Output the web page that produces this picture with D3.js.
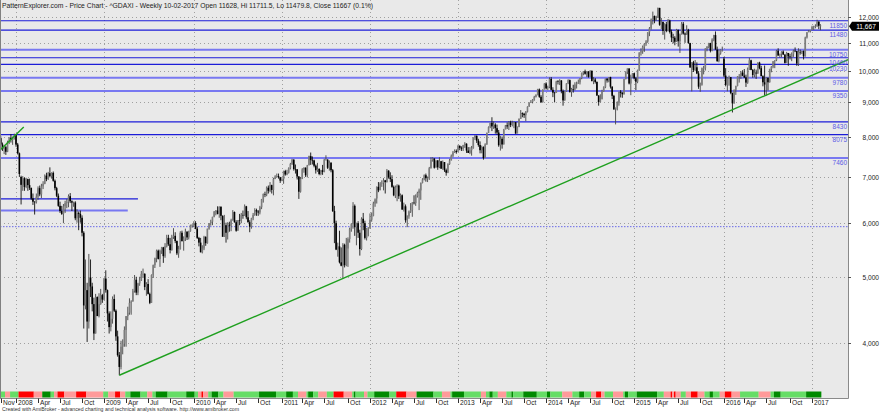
<!DOCTYPE html>
<html><head><meta charset="utf-8">
<script src="https://cdn.jsdelivr.net/npm/d3@7"></script>
<style>body{margin:0;background:#fff}svg{display:block;font-family:"Liberation Sans",Arial,sans-serif}</style>
</head><body><svg id="c" width="880" height="413"></svg>
<script>
// ---------- DATA ----------
const chartTitle = "PatternExplorer.com - Price Chart - ^GDAXI - Weekly 10-02-2017 Open 11628, Hi 11711.5, Lo 11479.8, Close 11667 (0.1%)";
const footerText = "Created with AmiBroker - advanced charting and technical analysis software. http://www.amibroker.com";
const firstWeek = "2007-11-02"; // weekly bars (Fridays)
const lastClose = 11667;
const lastCloseLabel = "11,667";
const weeklyOHLC = [
[7980,8030,7790,7810],[7810,7860,7640,7690],[7690,7800,7560,7740],[7740,7770,7540,7620],[7620,7910,7610,7870],
[7870,8000,7820,7990],[7990,8090,7860,7930],[7930,8020,7800,7960],[7960,8100,7940,8067],
[8067,8090,7750,7808],[7808,7850,7550,7580],[7580,7600,7000,7070],[7000,7030,6380,6816],[6816,7020,6680,6970],
[6970,6990,6680,6768],[6768,6980,6740,6950],[6950,6960,6680,6810],[6810,6960,6700,6748],[6748,6750,6480,6510],
[6510,6620,6370,6440],[6440,6450,6167,6430],[6430,6620,6400,6550],[6550,6780,6480,6740],[6740,6800,6560,6600],
[6600,6840,6520,6780],[6780,6900,6720,6840],[6840,7060,6830,7030],[7030,7100,6900,6950],[6950,7120,6930,7090],
[7090,7230,6990,7020],[7020,7110,6960,7097],[7097,7130,6890,6910],[6910,6940,6690,6740],[6740,6770,6540,6570],
[6570,6620,6330,6350],[6350,6440,6200,6240],[6240,6350,6160,6180],[6180,6390,5990,6340],[6340,6460,6200,6410],
[6410,6500,6300,6430],[6430,6600,6320,6560],[6560,6630,6410,6450],[6450,6470,6240,6420],[6420,6440,6330,6422],
[6422,6450,6050,6090],[6090,6280,6000,6200],[6200,6230,5850,6180],[6180,6250,6000,6100],[6100,6150,5730,5800],
[5800,5830,4200,4540],[4540,5300,4480,4780],[4780,4900,4014,4300],[4300,5400,4200,4988],[4988,5300,4670,4840],
[4840,4900,4450,4560],[4560,4660,4040,4130],[4130,4720,4130,4670],[4670,4680,4380,4380],[4380,4730,4360,4560],
[4560,4800,4550,4700],[4700,4720,4580,4630],
[4630,4980,4620,4970],[4970,5110,4740,4780],[4780,4790,4300,4420],[4420,4450,4130,4220],[4220,4450,4160,4340],
[4340,4680,4270,4640],[4640,4710,4440,4460],[4460,4480,4030,4090],[4090,4170,3820,3840],[3840,3880,3588,3690],
[3690,4030,3660,3950],[3950,4050,3850,3990],[3990,4230,3950,4180],[4180,4380,3950,4380],[4380,4520,4320,4430],
[4430,4650,4400,4580],[4580,4620,4400,4600],[4600,4800,4600,4770],[4770,5030,4740,4950],[4950,5000,4700,4740],
[4740,4900,4700,4890],[4890,5000,4850,4940],[4940,5100,4930,5050],[5050,5140,4980,5050],[5050,5060,4780,4830],
[4830,4910,4690,4880],[4880,4960,4710,4720],[4720,4740,4560,4580],[4580,5040,4580,5030],[5030,5210,4980,5200],
[5200,5330,5150,5330],[5330,5480,5250,5460],[5460,5480,5300,5310],[5310,5480,5170,5460],[5460,5530,5400,5520],
[5520,5530,5240,5360],[5360,5600,5330,5540],[5540,5760,5520,5700],[5700,5760,5550,5580],[5580,5700,5410,5470],
[5470,5760,5460,5720],[5720,5890,5680,5740],[5740,5810,5600,5640],[5640,5650,5380,5410],[5410,5550,5330,5490],
[5490,5830,5480,5800],[5800,5840,5630,5640],[5640,5730,5460,5690],[5690,5880,5640,5820],[5820,5830,5660,5710],
[5710,5840,5670,5830],[5830,5960,5820,5950],[5950,5970,5900,5957],
[5957,6030,5910,5990],[5990,6030,5870,5880],[5880,5920,5680,5700],[5700,5720,5540,5610],[5610,5700,5430,5430],
[5430,5560,5410,5500],[5500,5740,5470,5720],[5720,5730,5550,5600],[5600,5880,5590,5880],[5880,5990,5860,5990],
[5990,6060,5940,6020],[6020,6120,5950,6120],[6120,6240,6110,6230],[6230,6260,6150,6250],[6250,6340,6170,6180],
[6180,6340,6100,6330],[6330,6340,6050,6140],[6140,6150,5750,5720],[5720,6160,5720,5950],[5950,6000,5610,5800],
[5800,6010,5670,5960],[5960,6020,5820,5940],[5940,6080,5830,6050],[6050,6260,6040,6220],[6220,6230,6000,6010],
[6010,6050,5820,5840],[5840,6050,5840,6050],[6050,6180,5950,6040],[6040,6200,5990,6160],[6160,6250,6080,6150],
[6150,6380,6140,6340],[6340,6350,6070,6110],[6110,6240,6000,6010],[6010,6050,5810,5920],[5920,6100,5880,6090],
[6090,6200,6050,6160],[6160,6300,6140,6260],[6260,6290,6140,6230],[6230,6260,6140,6210],[6210,6350,6170,6320],
[6320,6500,6280,6490],[6490,6620,6420,6610],[6610,6660,6540,6600],[6600,6780,6560,6750],[6750,6800,6620,6680],
[6680,6880,6650,6810],[6810,6820,6620,6700],[6700,6980,6580,6950],[6950,7040,6950,7010],[7010,7080,6990,7020],
[7020,7080,6960,6990],[6990,7000,6860,6914],
[6914,7000,6900,6950],[6950,7150,6840,7140],[7140,7170,7030,7060],[7060,7170,7040,7100],[7100,7230,7080,7210],
[7210,7340,7180,7310],[7310,7440,7290,7420],[7420,7430,7150,7190],[7190,7300,7080,7180],[7180,7190,6940,7010],
[7010,7020,6500,6660],[6660,7000,6640,6950],[6950,7210,6950,7180],[7180,7230,7100,7220],[7220,7230,7000,7040],
[7040,7290,6990,7280],[7280,7520,7280,7510],[7510,7600,7290,7410],[7410,7500,7300,7400],[7400,7420,7230,7270],
[7270,7300,7080,7160],[7160,7340,7120,7190],[7190,7210,7040,7070],[7070,7170,7040,7160],[7160,7290,7050,7120],
[7120,7440,7110,7420],[7420,7530,7400,7420],[7420,7430,7190,7220],[7220,7400,7150,7340],[7340,7360,7110,7160],
[7160,7190,6220,6240],[6240,6350,5600,5990],[5990,6040,5470,5480],[5480,5610,5350,5540],[5540,5840,5230,5250],
[5250,5520,5180,5190],[5190,5600,4965,5570],[5570,5590,5160,5200],[5200,5700,5180,5500],[5500,5710,5170,5680],
[5680,5900,5610,5870],[5870,5990,5820,5970],[5970,6430,5880,6350],[6350,6380,5740,5910],[5910,6000,5560,5990],
[5990,6030,5700,5800],[5800,5860,5370,5490],[5490,6110,5470,6080],[6080,6200,5850,5990],[5990,6040,5670,5700],
[5700,5890,5650,5880],[5880,5910,5730,5898],
[5898,6190,5880,6060],[6060,6210,6020,6140],[6140,6440,6130,6400],[6400,6480,6330,6510],[6510,6780,6400,6770],
[6770,6880,6650,6690],[6690,6880,6700,6850],[6850,6920,6770,6860],[6860,6970,6690,6920],[6920,6930,6620,6880],
[6880,7190,6870,7150],[7150,7160,6960,6990],[6990,7110,6880,6947],[6947,7040,6750,6770],[6770,6800,6560,6580],
[6580,6800,6520,6760],[6760,6830,6450,6800],[6800,6820,6500,6560],[6560,6620,6440,6580],[6580,6600,6270,6270],
[6270,6420,6230,6340],[6340,6380,6000,6050],[6050,6150,5910,6130],[6130,6250,6080,6230],[6230,6410,6200,6260],
[6260,6430,6120,6420],[6420,6580,6380,6410],[6410,6600,6350,6560],[6560,6660,6530,6630],[6630,6730,6260,6690],
[6690,6870,6480,6860],[6860,6970,6850,6940],[6940,7060,6920,7040],[7040,7080,6890,6970],[6970,7010,6880,6970],
[6970,7240,6930,7210],[7210,7480,7200,7410],[7410,7480,7370,7450],[7450,7450,7200,7220],[7220,7400,7240,7400],
[7400,7410,7170,7230],[7230,7480,7210,7380],[7380,7390,7190,7200],[7200,7400,7170,7360],[7360,7360,7120,7160],
[7160,7200,7030,7100],[7100,7330,7090,7310],[7310,7440,7290,7400],[7400,7550,7400,7520],[7520,7640,7480,7600],
[7600,7680,7590,7640],[7640,7680,7570,7612],
[7612,7800,7660,7770],[7770,7790,7660,7720],[7720,7760,7640,7700],[7700,7800,7640,7790],[7790,7870,7720,7830],
[7830,7840,7590,7650],[7650,7740,7590,7590],[7590,7740,7560,7660],[7660,7770,7520,7710],[7710,8000,7700,7990],
[7990,8060,7930,8040],[8040,8050,7850,7910],[7910,7960,7750,7795],[7795,7890,7580,7660],[7660,7780,7580,7740],
[7740,7760,7420,7460],[7460,7840,7460,7810],[7810,8130,7800,8120],[8120,8300,8120,8280],[8280,8400,8250,8400],
[8400,8560,8170,8300],[8300,8440,8230,8350],[8350,8390,8100,8250],[8250,8350,8070,8130],[8130,8200,7750,7790],
[7790,8040,7650,7960],[7960,8020,7700,7810],[7810,8230,7810,8210],[8210,8340,8230,8330],[8330,8410,8230,8300],
[8300,8450,8200,8410],[8410,8460,8280,8340],[8340,8460,8300,8390],[8390,8430,8250,8420],[8420,8420,8100,8100],
[8100,8300,8130,8280],[8280,8530,8280,8510],[8510,8770,8520,8680],[8680,8700,8560,8660],[8660,8690,8540,8620],
[8620,8740,8450,8720],[8720,8880,8700,8870],[8870,9000,8870,8990],[8990,9070,8980,9010],[9010,9100,8970,9080],
[9080,9200,9050,9170],[9170,9250,9150,9220],[9220,9420,9220,9400],[9400,9430,9140,9170],[9170,9220,8980,9010],
[9010,9400,8990,9400],[9400,9600,9400,9590],
[9590,9630,9400,9440],[9440,9520,9380,9470],[9470,9790,9440,9740],[9740,9800,9370,9390],[9390,9470,9160,9300],
[9300,9320,9000,9290],[9290,9680,9290,9660],[9660,9700,9560,9650],[9650,9730,9540,9690],[9690,9700,9280,9350],
[9350,9400,8900,9060],[9060,9360,9050,9340],[9340,9600,9330,9590],[9590,9730,9570,9700],[9700,9720,9300,9320],
[9320,9450,9170,9410],[9410,9550,9300,9400],[9400,9630,9370,9560],[9560,9650,9430,9580],[9580,9720,9580,9630],
[9630,9770,9560,9770],[9770,9950,9730,9940],[9940,10000,9860,9990],[9990,10050,9880,9910],[9910,10000,9800,9990],
[9990,9990,9780,9810],[9810,10030,9800,10010],[10010,10020,9660,9670],[9670,9800,9570,9720],[9720,9770,9590,9640],
[9640,9660,9200,9210],[9210,9220,8900,9010],[9010,9250,9000,9090],[9090,9390,9100,9340],[9340,9500,9330,9470],
[9470,9750,9440,9750],[9750,9760,9620,9690],[9690,9800,9630,9800],[9800,9810,9430,9490],[9490,9500,9100,9200],
[9200,9230,8780,8790],[8790,8820,8355,8850],[8850,9030,8760,8990],[8990,9330,8900,9330],[9330,9380,9150,9290],
[9290,9320,9140,9250],[9250,9740,9240,9730],[9730,9990,9730,9980],[9980,10090,9900,10090],[10090,10090,9560,9590],
[9590,9880,9220,9790],[9790,9930,9780,9930],[9930,9930,9720,9760],
[9760,9800,9380,9650],[9650,10050,9600,10030],[10030,10650,10010,10650],[10650,10800,10540,10690],[10690,10900,10600,10850],
[10850,10980,10670,10960],[10960,11100,10890,11050],[11050,11400,11000,11400],[11400,11600,11250,11550],[11550,11940,11500,11900],
[11900,12220,11700,12040],[12040,12060,11750,11870],[11870,12050,11850,11970],[11970,12390,11960,12370],[12370,12380,11650,11690],
[11690,11960,11520,11810],[11810,11800,11300,11450],[11450,11750,11120,11710],[11710,11800,11400,11450],[11450,11920,11430,11860],
[11860,11890,11350,11410],[11410,11500,11030,11200],[11200,11340,10980,11190],[11190,11250,10910,11040],[11040,11530,11030,11490],
[11490,11500,10860,11060],[11060,11350,10630,11320],[11320,11800,11310,11730],[11730,11800,11310,11350],[11350,11390,11000,11310],
[11310,11670,11300,11490],[11490,11530,10970,10990],[10990,11000,10120,10120],[10120,10300,9338,10300],[10300,10350,9970,10040],
[10040,10380,10000,10130],[10130,10300,9900,9920],[9920,10000,9420,9490],[9490,9620,9325,9550],[9550,10120,9520,10100],
[10100,10180,9890,10100],[10100,10800,10020,10790],[10790,10880,10690,10850],[10850,11000,10800,10990],[10990,11000,10650,10710],
[10710,11170,10690,11120],[11120,11300,11060,11290],[11290,11430,10760,10750],[10750,10860,10320,10340],[10340,10760,10300,10610],
[10610,10760,10570,10730],[10730,10860,10680,10743],
[10430,10490,9800,9850],[9850,10100,9500,9550],[9550,9800,9340,9760],[9760,9850,9520,9800],[9800,9800,9250,9290],
[9290,9300,8699,8970],[8970,9400,8960,9390],[9390,9520,9230,9510],[9510,9830,9500,9820],[9820,9900,9620,9830],
[9830,10000,9740,9950],[9950,10030,9830,9850],[9850,10070,9770,9790],[9790,9880,9480,9620],[9620,10120,9580,10050],
[10050,10460,10040,10370],[10370,10390,10030,10040],[10040,10070,9780,9870],[9870,10080,9790,9950],[9950,10050,9740,9920],
[9920,10300,9910,10290],[10290,10320,10060,10100],[10100,10180,9830,9830],[9830,9860,9500,9630],[9630,10190,9210,9560],
[9560,9800,9210,9780],[9780,9780,9370,9630],[9630,10080,9620,10070],[10070,10170,9960,10150],[10150,10340,10100,10337],
[10337,10370,10100,10370],[10370,10740,10340,10710],[10710,10800,10530,10540],[10540,10610,10460,10590],[10590,10690,10480,10680],
[10680,10720,10570,10570],[10570,10590,10260,10280],[10280,10670,10280,10630],[10630,10630,10180,10510],[10510,10600,10400,10490],
[10490,10650,10340,10580],[10580,10750,10490,10710],[10710,10830,10660,10700],[10700,10680,10180,10260],[10260,10800,10175,10670],
[10670,10750,10570,10660],[10660,10710,10590,10700],[10700,10720,10400,10510],[10510,11230,10500,11200],[11200,11400,11160,11400],
[11400,11480,11400,11450],[11450,11480,11390,11481],
[11481,11650,11480,11600],[11600,11650,11490,11630],[11630,11710,11550,11630],[11630,11890,11610,11810],[11810,11830,11520,11650],
[11628,11711.5,11479.8,11667]
];
const yTicks = [4000,5000,6000,7000,8000,9000,10000,11000,12000];
const monthNames = ["Jan","Feb","Mar","Apr","May","Jun","Jul","Aug","Sep","Oct","Nov","Dec"];
const labelMonths = [0,3,6,9];
const marketHolidays = ["01-01","05-01"];
// support / resistance levels (full width, labelled)
const levelValues = [11850,11480,10750,10460,10230,9780,9350,8430,8075,7460];
const levelStyles = ["dark","dark","light","dark","dark","light","light","dark","dark","light"];
// short levels drawn over the 2008 area
const shortLevelValues = [6500,6250];
const shortLevelStyles = ["dark","light"];
const shortLevelFrom = ["2007-11-02","2007-11-02"];
const shortLevelTo = ["2009-05-22","2009-04-10"];
const dottedLevelValue = 5920;
// trend lines [date, value]
const trendMain = [["2009-03-06",3588],["2016-06-24",9200]];
const trendShort = [["2007-11-02",7680],["2008-02-05",8280]];
// colour ribbon: runs of weeks
const stripRuns = [["g",3],["r",3],["g",5],["R",9],["r",5],["G",5],["g",2],["r",2],["R",4],["r",7],["R",6],["r",10],
["g",3],["r",4],["R",3],["r",3],["g",3],["G",6],["g",4],["r",3],["g",2],["G",7],["g",11],["G",5],["g",2],["r",2],["R",1],
["r",3],["g",2],["G",4],["g",3],["r",6],["g",15],["G",10],["g",6],["G",4],["g",3],["r",5],["g",1],["G",3],["g",3],["r",5],
["g",4],["R",6],["r",5],["g",1],["G",1],["g",5],["r",2],["g",4],["G",9],["g",4],["R",6],["r",6],["G",10],["g",5],["r",5],
["g",1],["G",7],["g",10],["r",3],["g",2],["G",2],["g",3],["r",5],["g",3],["G",1],["g",6],["G",8],["g",6],["G",2],["g",7],
["r",6],["g",4],["G",3],["g",4],["r",3],["R",3],["r",2],["g",5],["r",6],["g",1],["G",2],["g",5],["G",12],["g",4],["r",4],
["R",1],["r",1],["R",1],["r",3],["g",3],["r",3],["R",4],["r",4],["g",3],["G",2],["g",4],["r",3],["R",4],["r",5],["g",11],
["r",7],["g",2],["G",4],["g",15],["G",9]];
const stripColors = {G:"#008a00", g:"#66dd66", R:"#ff0000", r:"#ff9a9a"};

// ---------- LAYOUT ----------
const plotR = 848, plotB = 398, stripTop = 391.5, stripH = 6;
const svg = d3.select("#c");
const parse = d3.utcParse("%Y-%m-%d");
const t0 = parse(firstWeek);
const bars = weeklyOHLC.map((d,i)=>({i, date:d3.utcDay.offset(t0,7*i), o:d[0], h:d[1], l:d[2], c:d[3]}));
const idxOf = s => (parse(s) - t0) / (7*864e5);
const x = d3.scaleLinear().domain([0, bars.length-1]).range([0.76, 820.5]);
const y = d3.scaleLog().domain([12000, 4000]).range([17, 343]);
const barW = x(1) - x(0);

svg.append("rect").attr("x",0).attr("y",0).attr("width",880).attr("height",413).attr("fill","#fff");
svg.append("rect").attr("x",0).attr("y",0).attr("width",plotR).attr("height",plotB).attr("fill","#e9e9e9");
svg.append("defs").append("clipPath").attr("id","clip").append("rect").attr("x",0).attr("y",0).attr("width",plotR).attr("height",plotB);
const g = svg.append("g").attr("clip-path","url(#clip)");

function tradingMonth(d){
  const md = d3.utcFormat("%m-%d")(d);
  if (marketHolidays.includes(md)) d = d3.utcDay.offset(d,-1);
  return [d.getUTCFullYear(), d.getUTCMonth()];
}
const monthStarts = [];
bars.forEach((b,i)=>{
  const tm = tradingMonth(b.date);
  b.ty = tm[0]; b.tm = tm[1];
  if (i===0 || bars[i-1].tm !== b.tm) monthStarts.push({i, y:b.ty, m:b.tm, first:i===0});
});

// grid
yTicks.forEach(v=>{
  g.append("line").attr("x1",0).attr("x2",plotR).attr("y1",Math.round(y(v))+0.5).attr("y2",Math.round(y(v))+0.5)
   .attr("stroke","#a0a0a0").attr("stroke-dasharray","1,3");
});
monthStarts.filter(d=>d.m===0 && !d.first).forEach(d=>{
  g.append("line").attr("x1",Math.round(x(d.i))+0.5).attr("x2",Math.round(x(d.i))+0.5).attr("y1",0).attr("y2",stripTop)
   .attr("stroke","#a0a0a0").attr("stroke-dasharray","1,3");
});

// dotted level
g.append("line").attr("x1",0).attr("x2",plotR).attr("y1",y(dottedLevelValue)).attr("y2",y(dottedLevelValue))
 .attr("stroke","#6a6ae8").attr("stroke-dasharray","1.5,1.5").attr("stroke-width",1);

// level lines
const styleOf = s => s==="dark" ? {c:"#1c1cd8", w:1.2, o:1} : {c:"#6c6cf2", w:2, o:0.9};
levelValues.forEach((v,k)=>{
  const st = styleOf(levelStyles[k]);
  g.append("line").attr("x1",0).attr("x2",plotR).attr("y1",y(v)).attr("y2",y(v))
   .attr("stroke",st.c).attr("stroke-width",st.w).attr("stroke-opacity",st.o);
});
shortLevelValues.forEach((v,k)=>{
  const st = styleOf(shortLevelStyles[k]);
  g.append("line").attr("x1",x(idxOf(shortLevelFrom[k]))).attr("x2",x(idxOf(shortLevelTo[k])))
   .attr("y1",y(v)).attr("y2",y(v)).attr("stroke",st.c).attr("stroke-width",st.w).attr("stroke-opacity",st.o);
});

// candles
const cg = g.append("g");
bars.forEach(b=>{
  const down = b.c < b.o;
  const cx = x(b.i);
  cg.append("line").attr("x1",cx).attr("x2",cx).attr("y1",y(b.h)).attr("y2",y(b.l))
    .attr("stroke", down ? "#111" : "#444").attr("stroke-width",0.9);
  const top = y(Math.max(b.o,b.c)), bot = y(Math.min(b.o,b.c));
  cg.append("rect").attr("x",cx-0.8).attr("width",1.6).attr("y",top).attr("height",Math.max(0.6,bot-top))
    .attr("fill", down ? "#000" : "#7d7d7d");
});

// trend lines
function pt(p){ return [x(idxOf(p[0])), y(p[1])]; }
(function(){
  const a = pt(trendMain[0]), b = pt(trendMain[1]);
  const t = (plotR - a[0]) / (b[0]-a[0]);
  g.append("line").attr("x1",a[0]).attr("y1",a[1]).attr("x2",a[0]+t*(b[0]-a[0])).attr("y2",a[1]+t*(b[1]-a[1]))
   .attr("stroke","#1fa01f").attr("stroke-width",1.4);
  const c = pt(trendShort[0]), d = pt(trendShort[1]);
  g.append("line").attr("x1",c[0]).attr("y1",c[1]).attr("x2",d[0]).attr("y2",d[1])
   .attr("stroke","#1fa01f").attr("stroke-width",1.4);
})();

// level labels
levelValues.forEach(v=>{
  svg.append("text").attr("x",plotR-1).attr("y",y(v)+7).attr("text-anchor","end")
    .attr("font-size","6.5px").attr("fill","#5c5ce6").text(String(v));
});

// colour ribbon
let start = 0;
stripRuns.forEach(([code,n])=>{
  svg.append("rect").attr("x",x(start)-barW/2).attr("width",barW*n).attr("y",stripTop).attr("height",stripH)
    .attr("fill",stripColors[code]);
  start += n;
});

// frame lines
svg.append("line").attr("x1",0.5).attr("x2",0.5).attr("y1",0).attr("y2",plotB).attr("stroke","#808080");
svg.append("line").attr("x1",0).attr("x2",plotR+0.5).attr("y1",plotB+0.5).attr("y2",plotB+0.5).attr("stroke","#8a8a8a");
svg.append("line").attr("x1",plotR+0.5).attr("x2",plotR+0.5).attr("y1",0).attr("y2",plotB+0.5).attr("stroke","#8a8a8a");

// right axis
const fmt = d3.format(",");
yTicks.forEach(v=>{
  const yy = Math.round(y(v))+0.5;
  svg.append("line").attr("x1",plotR).attr("x2",plotR+3).attr("y1",yy).attr("y2",yy).attr("stroke","#555");
  svg.append("text").attr("x",879).attr("y",yy+2.3).attr("text-anchor","end").attr("font-size","6.6px")
    .attr("fill","#222").text(fmt(v));
});
// last price marker
(function(){
  const yy = y(lastClose)+1;
  svg.append("path").attr("d",`M${plotR+1},${yy} L${plotR+4},${yy-4.5} L879,${yy-4.5} L879,${yy+4.5} L${plotR+4},${yy+4.5} Z`)
    .attr("fill","#000");
  svg.append("text").attr("x",866).attr("y",yy+2.3).attr("text-anchor","middle").attr("font-size","6.6px")
    .attr("fill","#fff").text(lastCloseLabel);
})();

// bottom axis
monthStarts.filter(d=>d.first || labelMonths.includes(d.m)).forEach(d=>{
  const xx = Math.round(x(d.i))+0.5;
  svg.append("line").attr("x1",xx).attr("x2",xx).attr("y1",plotB+0.5).attr("y2",plotB+5).attr("stroke","#333");
  svg.append("text").attr("x",xx+1.5).attr("y",404.8).attr("font-size","6.6px").attr("fill","#222")
    .text(d.m===0 ? String(d.y) : monthNames[d.m]);
});

// title & footer
svg.append("text").attr("x",2).attr("y",8).attr("font-size","7px").attr("fill","#222")
  .attr("textLength",371).attr("lengthAdjust","spacingAndGlyphs").text(chartTitle);
svg.append("text").attr("x",2).attr("y",411.3).attr("font-size","5.8px").attr("fill","#333")
  .attr("textLength",237).attr("lengthAdjust","spacingAndGlyphs").text(footerText);
</script></body></html>
